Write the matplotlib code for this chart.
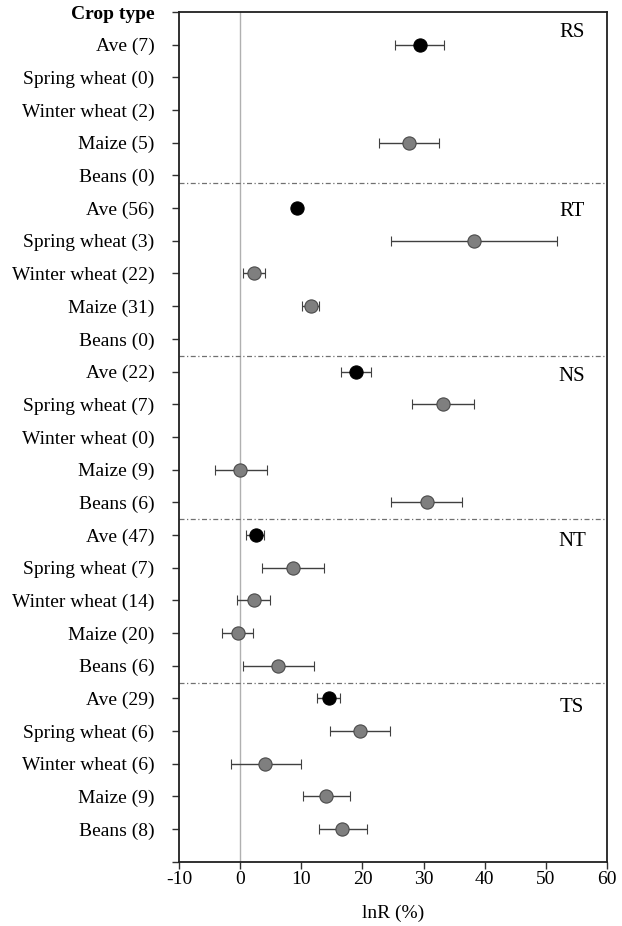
import numpy as np
import matplotlib
matplotlib.use('Agg')
import matplotlib.pyplot as plt

plt.rcParams['font.family'] = ['Liberation Serif', 'DejaVu Serif']

# Treatments (top to bottom) and crop rows inside each block
treatments = ['RS', 'RT', 'NS', 'NT', 'TS']
crops = ['Ave', 'Spring wheat', 'Winter wheat', 'Maize', 'Beans']
counts = [
    [7, 0, 2, 5, 0],
    [56, 3, 22, 31, 0],
    [22, 7, 0, 9, 6],
    [47, 7, 14, 20, 6],
    [29, 6, 6, 9, 8],
]
# mean lnR (%), NaN where no observations
means = [
    [29.4, np.nan, np.nan, 27.6, np.nan],
    [9.2, 38.2, 2.2, 11.6, np.nan],
    [19.0, 33.2, np.nan, 0.0, 30.5],
    [2.5, 8.6, 2.2, -0.4, 6.1],
    [14.5, 19.6, 4.1, 14.0, 16.7],
]
# lower and upper ends of the confidence intervals
lows = [
    [25.4, np.nan, np.nan, 22.7, np.nan],
    [8.6, 24.6, 0.4, 10.1, np.nan],
    [16.4, 28.1, np.nan, -4.2, 24.6],
    [1.0, 3.6, -0.5, -3.0, 0.4],
    [12.6, 14.6, -1.5, 10.2, 12.8],
]
highs = [
    [33.4, np.nan, np.nan, 32.6, np.nan],
    [9.8, 51.9, 4.1, 12.8, np.nan],
    [21.4, 38.2, np.nan, 4.3, 36.3],
    [3.9, 13.7, 4.8, 2.0, 12.0],
    [16.3, 24.5, 9.9, 18.0, 20.7],
]

n_rows = len(treatments) * len(crops)
fig = plt.figure(figsize=(6.22, 9.26), dpi=100)
ax = fig.add_axes([0.2883, 0.0694, 0.6871, 0.9176])

labels = []
for i, t in enumerate(treatments):
    for j, c in enumerate(crops):
        y = n_rows - (i * len(crops) + j)
        labels.append((y, f'{c} ({counts[i][j]})'))
        m = means[i][j]
        if np.isnan(m):
            continue
        err = [[m - lows[i][j]], [highs[i][j] - m]]
        is_ave = c == 'Ave'
        ax.errorbar(m, y, xerr=err, fmt='o', ms=9.5,
                    mfc='black' if is_ave else '#7f7f7f',
                    mec='black' if is_ave else '#4a4a4a', mew=0.8,
                    ecolor='#404040', elinewidth=1.0, capsize=3.5,
                    capthick=1.0, zorder=3)
    # block label on the right
    y_top = n_rows - i * len(crops)
    ax.text(54.3, y_top + [0.36, -0.11, -0.14, -0.21, -0.29][i], t,
            fontsize=15, ha='center', va='center')
    if i > 0:
        ax.axhline(y_top + [0, 0.77, 0.47, 0.48, 0.46][i], color='#707070',
                   lw=0.9, ls=(0, (4, 2, 1, 2)), zorder=1)

ax.axvline(0, color='#b0b0b0', lw=1.0, zorder=0)

ax.set_xlim(-10, 60)
ax.set_ylim(0, n_rows + 1)
ax.set_xticks(range(-10, 61, 10))
ax.set_xticklabels([str(v) for v in range(-10, 61, 10)], fontsize=14)
yt = [0] + [y for y, _ in labels] + [n_rows + 1]
yl = [''] + [s for _, s in labels] + ['Crop type']
ax.set_yticks(yt)
ax.set_yticklabels(yl, fontsize=14)
ax.get_yticklabels()[-1].set_fontweight('bold')
ax.tick_params(direction='out', length=5, width=1, color='#303030')
ax.tick_params(axis='y', pad=13)
ax.tick_params(axis='x', pad=2)
for s in ax.spines.values():
    s.set_linewidth(1.3)
    s.set_color('#202020')
ax.set_xlabel('lnR (%)', fontsize=14, labelpad=12)

fig.savefig('out.png', dpi=100)
